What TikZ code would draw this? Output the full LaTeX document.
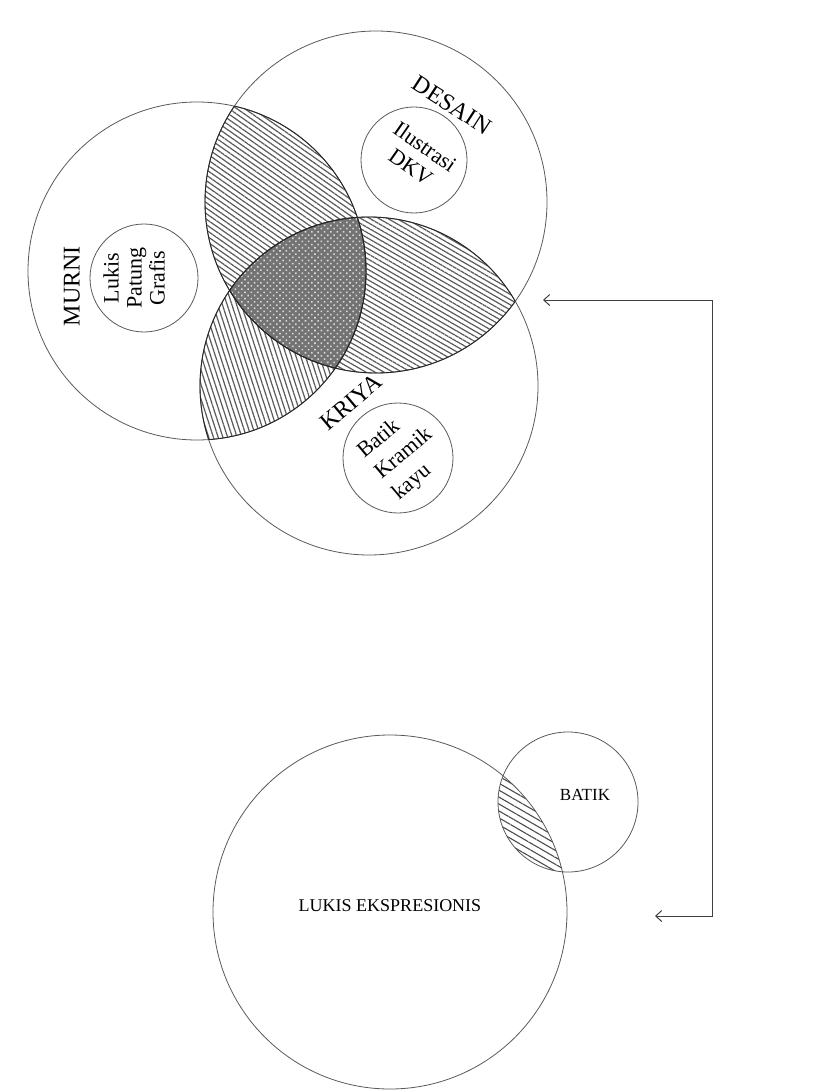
\documentclass[tikz,border=0pt]{standalone}
\usepackage{fontspec}
\setmainfont{Liberation Serif}
\usetikzlibrary{patterns.meta,arrows.meta}

\tikzset{
  set/.style={draw=black!65, line width=0.8pt},
  lens/.style={draw=black!85, line width=0.9pt},
  hatch/.style={pattern={Lines[angle=#1,distance=4.5pt,line width=1.2pt]}, pattern color=black!65},
  setlabel/.style={inner sep=0pt, align=center, font=\fontsize{24}{27}\selectfont},
  itemlabel/.style={inner sep=0pt, align=center, font=\fontsize{22}{25}\selectfont},
}

\begin{document}
\begin{tikzpicture}[x=1pt,y=-1pt]
  \useasboundingbox (0,0) rectangle (829,1091);
  \coordinate (desain) at (376,202);
  \coordinate (murni) at (197,271);
  \coordinate (kriya) at (369,386);
  \coordinate (lukis) at (390,912);
  \coordinate (batik) at (568,802);

  % two by two
  \begin{scope}
    \clip (murni) circle (169pt);
    \fill[hatch=-35] (desain) circle (171pt);
  \end{scope}
  \begin{scope}
    \clip (desain) circle (171pt);
    \fill[hatch=-30] (kriya) circle (169pt);
  \end{scope}
  \begin{scope}
    \clip (murni) circle (169pt);
    \fill[hatch=-72] (kriya) circle (169pt);
  \end{scope}
  % all three
  \begin{scope}
    \clip (murni) circle (169pt);
    \clip (desain) circle (171pt);
    \fill[black!55] (kriya) circle (169pt);
    \fill[pattern={Dots[radius=1.1pt,distance=4.5pt,angle=45]}, pattern color=white!85!black] (kriya) circle (169pt);
  \end{scope}
  \begin{scope}
    \clip (lukis) circle (177pt);
    \fill[pattern={Lines[angle=-30,distance=6pt,line width=1.1pt]}, pattern color=black!70] (batik) circle (70pt);
  \end{scope}

  \draw[set] (desain) circle (171pt);
  \draw[set] (murni) circle (169pt);
  \draw[set] (kriya) circle (169pt);
  % darker lens edges
  \begin{scope}
    \clip (murni) circle (169pt);
    \draw[lens] (desain) circle (171pt) (kriya) circle (169pt);
  \end{scope}
  \begin{scope}
    \clip (desain) circle (171pt);
    \draw[lens] (murni) circle (169pt) (kriya) circle (169pt);
  \end{scope}
  \begin{scope}
    \clip (kriya) circle (169pt);
    \draw[lens] (murni) circle (169pt) (desain) circle (171pt);
  \end{scope}

  \draw[set] (414,160) circle (53pt);
  \draw[set] (144,278) circle (54pt);
  \draw[set] (398,458) circle (55pt);

  \draw[set] (lukis) circle (177pt);
  \draw[set] (batik) circle (70pt);

  \node[setlabel, rotate=-33] (desainlabel) at (452,105) {DESAIN};
  \node[itemlabel, rotate=-35] (desainitems) at (418,157) {Ilustrasi\\DKV};
  \node[setlabel, rotate=90] (murnilabel) at (72,286) {MURNI};
  \node[itemlabel, rotate=90, font=\fontsize{22}{23}\selectfont] (murniitems) at (134,278) {Lukis\\Patung\\Grafis};
  \node[setlabel, rotate=40] (kriyalabel) at (351,402) {KRIYA};
  \node[itemlabel, rotate=40, align=left, font=\fontsize{22}{27}\selectfont] (kriyaitems) at (404,454) {Batik\\Kramik\\kayu};
  \node[inner sep=0pt, font=\fontsize{18}{20}\selectfont] (lukislabel) at (390,906) {LUKIS EKSPRESIONIS};
  \node[inner sep=0pt, font=\fontsize{17}{20}\selectfont] (batiklabel) at (585,795) {BATIK};

  % link
  \coordinate (top) at (543,300);
  \coordinate (bottom) at (655,916);
  \draw[black!75, line width=1pt, {Straight Barb[length=6pt,width=11pt]}-{Straight Barb[length=6pt,width=11pt]}]
    (top) -- (712,300) -- (712,916) -- (bottom);
\end{tikzpicture}
\end{document}
